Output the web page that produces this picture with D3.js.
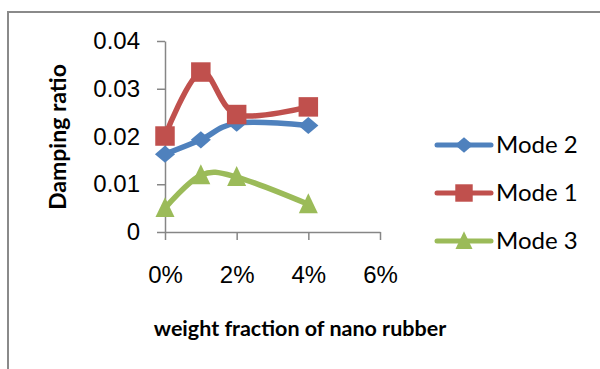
<!DOCTYPE html>
<html>
<head>
<meta charset="utf-8">
<script src="https://cdn.jsdelivr.net/npm/d3@7"></script>
<style>
  body { margin: 0; background: #fff; }
  svg { display: block; font-family: Lato, "Open Sans", sans-serif; }
  .axis path, .axis line { stroke: #868686; stroke-width: 1.5; }
  .axis text { fill: #000; font-size: 24px; }
</style>
</head>
<body>
<div id="chart"></div>
<script>
// chart values
var fractions = [0, 0.01, 0.02, 0.04];
var mode2 = [0.0163, 0.0193, 0.0228, 0.0223];
var mode1 = [0.0201, 0.0335, 0.0246, 0.0262];
var mode3 = [0.0050, 0.0119, 0.0115, 0.0058];
var yTicks = [0, 0.01, 0.02, 0.03, 0.04];
var xTicks = [0, 0.02, 0.04, 0.06];

var series = [
  {name: "Mode 2", values: mode2, color: "#4F81BD", symbol: "diamond"},
  {name: "Mode 1", values: mode1, color: "#C0504D", symbol: "square"},
  {name: "Mode 3", values: mode3, color: "#9BBB59", symbol: "triangle"}
];

var svgWidth = 600;
var svgHeight = 369;

var svg = d3.select("#chart")
  .append("svg")
  .attr("width", svgWidth)
  .attr("height", svgHeight);

// frame (only top and left edges are visible in the crop)
svg.append("path")
  .attr("d", "M8,369V12H600")
  .attr("fill", "none")
  .attr("stroke", "#8a8a8a")
  .attr("stroke-width", 2);

var xScale = d3.scaleLinear().domain([0, 0.06]).range([165, 380]);
var yScale = d3.scaleLinear().domain([0, 0.04]).range([232, 41]);

var leftAxis = d3.axisLeft(yScale)
  .tickValues(yTicks)
  .tickSize(8)
  .tickSizeOuter(0)
  .tickPadding(17)
  .tickFormat(d => d === 0 ? "0" : d3.format(".2f")(d));

var bottomAxis = d3.axisBottom(xScale)
  .tickValues(xTicks)
  .tickSize(8)
  .tickSizeOuter(0)
  .tickPadding(26)
  .tickFormat(d3.format(".0%"));

svg.append("g")
  .attr("class", "axis")
  .attr("transform", `translate(${xScale(0)},0)`)
  .call(leftAxis);

svg.append("g")
  .attr("class", "axis")
  .attr("transform", `translate(0,${yScale(0)})`)
  .call(bottomAxis);

// axis titles
svg.append("text")
  .attr("transform", "translate(66,137) rotate(-90)")
  .attr("text-anchor", "middle")
  .style("font-size", "23px")
  .style("font-weight", "bold")
  .text("Damping ratio");

svg.append("text")
  .attr("x", 300)
  .attr("y", 336)
  .attr("text-anchor", "middle")
  .style("font-size", "21.5px")
  .style("font-weight", "bold")
  .text("weight fraction of nano rubber");

// Excel style markers: wide diamond, square, triangle
var wideDiamond = {
  draw: function(context, size) {
    var w = Math.sqrt(size) * 0.75, h = w * 0.85;
    context.moveTo(0, -h);
    context.lineTo(w, 0);
    context.lineTo(0, h);
    context.lineTo(-w, 0);
    context.closePath();
  }
};
var tallTriangle = {
  draw: function(context, size) {
    var w = Math.sqrt(size) * 0.69, h = w * 1.05;
    context.moveTo(0, -h * 1.1);
    context.lineTo(w, h * 0.9);
    context.lineTo(-w, h * 0.9);
    context.closePath();
  }
};

var symbolTypes = {
  diamond: {type: wideDiamond, size: 180},
  square: {type: d3.symbolSquare, size: 380},
  triangle: {type: tallTriangle, size: 190}
};

var line = d3.line()
  .x((d, i) => xScale(fractions[i]))
  .y(d => yScale(d))
  .curve(d3.curveCardinal.tension(0));

series.forEach(function(s) {
  svg.append("path")
    .datum(s.values)
    .attr("d", line)
    .attr("fill", "none")
    .attr("stroke", s.color)
    .attr("stroke-width", 5.5)
    .attr("stroke-linejoin", "round");

  var sym = d3.symbol().type(symbolTypes[s.symbol].type).size(symbolTypes[s.symbol].size);
  svg.append("g")
    .selectAll("path")
    .data(s.values)
    .enter()
    .append("path")
    .attr("d", sym)
    .attr("transform", (d, i) => `translate(${xScale(fractions[i])},${yScale(d)})`)
    .attr("fill", s.color);
});

// legend
var legend = svg.append("g");
series.forEach(function(s, i) {
  var y = 145 + i * 48;
  var row = legend.append("g").attr("transform", `translate(0,${y})`);
  row.append("line")
    .attr("x1", 437).attr("x2", 491)
    .attr("stroke", s.color)
    .attr("stroke-width", 5)
    .attr("stroke-linecap", "round");
  row.append("path")
    .attr("d", d3.symbol().type(symbolTypes[s.symbol].type).size(symbolTypes[s.symbol].size * 0.8)())
    .attr("transform", "translate(464,0)")
    .attr("fill", s.color);
  row.append("text")
    .attr("x", 496)
    .attr("y", 0)
    .attr("dy", "0.35em")
    .style("font-size", "24px")
    .text(s.name);
});
</script>
</body>
</html>
